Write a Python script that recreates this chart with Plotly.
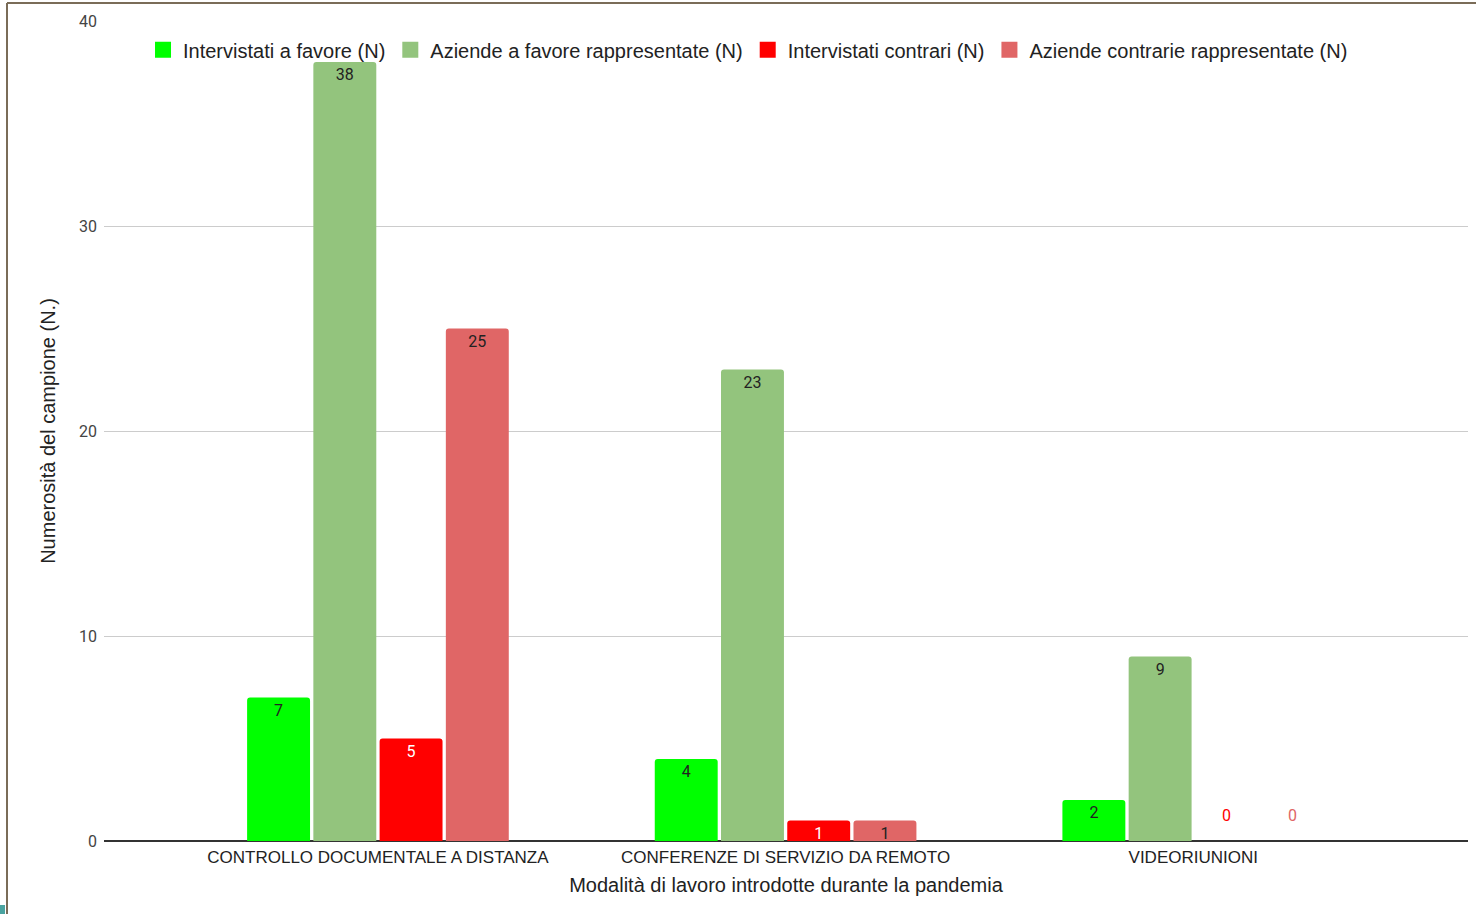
import plotly.graph_objects as go

# dati
categorie = ["CONTROLLO DOCUMENTALE A DISTANZA",
             "CONFERENZE DI SERVIZIO DA REMOTO",
             "VIDEORIUNIONI"]
serie_nomi = ["Intervistati a favore (N)",
              "Aziende a favore rappresentate (N)",
              "Intervistati contrari (N)",
              "Aziende contrarie rappresentate (N)"]
intervistati_favore = [7, 4, 2]
aziende_favore = [38, 23, 9]
intervistati_contrari = [5, 1, 0]
aziende_contrarie = [25, 1, 0]

colori = ["#00ff00", "#93c47d", "#ff0000", "#e06666"]
colori_testo = ["#222222", "#222222", "#ffffff", "#222222"]
colori_zero = ["#00cc00", "#6aa84f", "#ff0000", "#e06666"]

W, H = 1476, 914
ML, MR, MT, MB = 104, 8, 21, 73
BARGAP, GROUPGAP = 0.35, 0.05
X_RANGE = [-0.672, 2.674]
ARIAL = "Liberation Sans, Arial"

valori = [intervistati_favore, aziende_favore, intervistati_contrari, aziende_contrarie]

fig = go.Figure()
for i, (nome, vals) in enumerate(zip(serie_nomi, valori)):
    fig.add_trace(go.Bar(
        x=categorie, y=vals, name=nome, showlegend=False,
        marker=dict(color=colori[i], line=dict(width=0)),
        text=[str(v) if v > 0 else "" for v in vals],
        textposition="inside", insidetextanchor="end",
        textangle=0,
        textfont=dict(size=16, color=colori_testo[i], family="Roboto"),
        cliponaxis=False,
    ))
    # voce di legenda con quadratino più grande
    fig.add_trace(go.Scatter(
        x=[None], y=[None], mode="markers", name=nome,
        marker=dict(symbol="square", size=16, color=colori[i]),
    ))

# etichette "0" per le barre nulle
px_per_cat = (W - ML - MR) / (X_RANGE[1] - X_RANGE[0])
slot = (1 - BARGAP) / len(serie_nomi) * px_per_cat
for i, vals in enumerate(valori):
    for cat, v in zip(categorie, vals):
        if v == 0:
            fig.add_annotation(x=cat, y=v, text="0", showarrow=False,
                               xshift=(i - 1.5) * slot, yshift=26,
                               font=dict(size=16, color=colori_zero[i], family="Roboto"))

pw, ph = W - ML - MR, H - MT - MB
# cornice della schermata
fig.add_shape(type="line", xref="paper", yref="paper",
              x0=(7 - ML) / pw, x1=(7 - ML) / pw, y0=-MB / ph, y1=1 + (MT - 3) / ph,
              line=dict(color="#7a6c58", width=2))
fig.add_shape(type="line", xref="paper", yref="paper",
              x0=(7 - ML) / pw, x1=1 + MR / pw, y0=1 + (MT - 3) / ph, y1=1 + (MT - 3) / ph,
              line=dict(color="#7a6c58", width=2))
fig.add_shape(type="rect", xref="paper", yref="paper",
              x0=-ML / pw, x1=(5 - ML) / pw, y0=-MB / ph, y1=-(MB - 9) / ph,
              fillcolor="#4aa3a0", line=dict(width=0))

fig.update_layout(
    width=W, height=H,
    margin=dict(l=ML, r=MR, t=MT, b=MB, autoexpand=False),
    paper_bgcolor="white", plot_bgcolor="white",
    font=dict(family=ARIAL, color="#222222"),
    barmode="group", bargap=BARGAP, bargroupgap=GROUPGAP,
    barcornerradius=3,
    uniformtext=dict(minsize=16, mode="show"),
    showlegend=True,
    legend=dict(orientation="h", x=0.0286, y=0.965, xanchor="left", yanchor="middle",
                font=dict(size=20, color="#222222", family=ARIAL), bgcolor="rgba(0,0,0,0)",
                itemsizing="trace", traceorder="normal"),
    xaxis=dict(range=X_RANGE, showgrid=False, showline=False, zeroline=False,
               ticks="", tickfont=dict(size=17, color="#222222"), ticklabelstandoff=4,
               automargin=False,
               title=dict(text="Modalità di lavoro introdotte durante la pandemia",
                          font=dict(size=20, color="#222222"), standoff=11)),
    yaxis=dict(range=[0, 40], tickvals=[0, 10, 20, 30, 40],
               showgrid=True, gridcolor="#cccccc", gridwidth=1,
               zeroline=True, zerolinecolor="#333333", zerolinewidth=1.5,
               tickfont=dict(size=16, color="#444444", family="Roboto"), ticklabelstandoff=6,
               automargin=False,
               title=dict(text="Numerosità del campione (N.)",
                          font=dict(size=20, color="#222222"), standoff=18)),
)

fig.write_html("out.html", config={"displayModeBar": False},
               post_script="document.body.style.margin='0';")
